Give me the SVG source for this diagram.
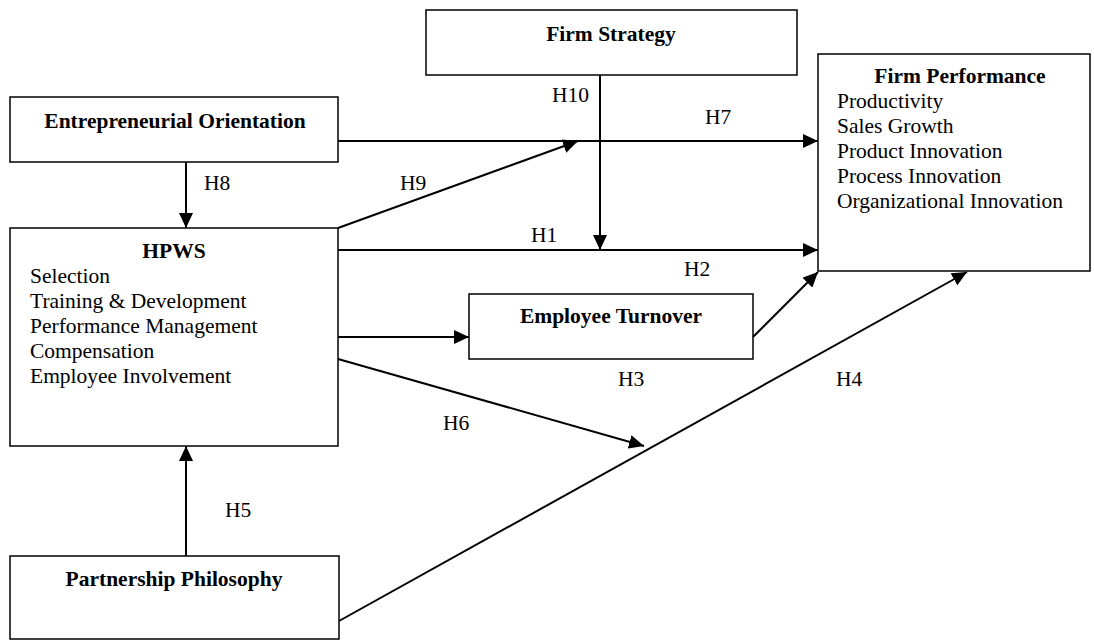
<svg xmlns="http://www.w3.org/2000/svg" width="1094" height="640" viewBox="0 0 1094 640">
<style>
.box{fill:#fff;stroke:#000;stroke-width:1.5}
.t{font-family:"Liberation Serif","Times New Roman",serif;font-size:21.5px;fill:#000}
.b{font-weight:bold}
.c{text-anchor:middle}
.con{stroke:#000;stroke-width:2;fill:none}
.lbl{font-family:"Liberation Serif","Times New Roman",serif;font-size:21.5px;fill:#000}
</style>
<defs>
<marker id="ah" markerUnits="userSpaceOnUse" markerWidth="15" markerHeight="14" refX="15" refY="7" orient="auto">
<path d="M0,0 L15,7 L0,14 z" fill="#000"/>
</marker>
</defs>
<rect width="1094" height="640" fill="#fff"/>
<g id="firm-strategy">
<rect class="box" x="426" y="10" width="371" height="65"/>
<text class="t b c" x="611" y="41">Firm Strategy</text>
</g>
<g id="entrepreneurial-orientation">
<rect class="box" x="10" y="97" width="328" height="65"/>
<text class="t b c" x="175" y="128">Entrepreneurial Orientation</text>
</g>
<g id="firm-performance">
<rect class="box" x="818" y="54" width="272" height="217"/>
<text class="t b c" x="960" y="83">Firm Performance</text>
<text class="t" x="837" y="108">Productivity</text>
<text class="t" x="837" y="133">Sales Growth</text>
<text class="t" x="837" y="158">Product Innovation</text>
<text class="t" x="837" y="183">Process Innovation</text>
<text class="t" x="837" y="208">Organizational Innovation</text>
</g>
<g id="hpws">
<rect class="box" x="10" y="228" width="328" height="218"/>
<text class="t b c" x="174" y="258">HPWS</text>
<text class="t" x="30" y="283">Selection</text>
<text class="t" x="30" y="308">Training &amp; Development</text>
<text class="t" x="30" y="333">Performance Management</text>
<text class="t" x="30" y="358">Compensation</text>
<text class="t" x="30" y="383">Employee Involvement</text>
</g>
<g id="employee-turnover">
<rect class="box" x="469" y="294" width="284" height="65"/>
<text class="t b c" x="611" y="323">Employee Turnover</text>
</g>
<g id="partnership-philosophy">
<rect class="box" x="10" y="556" width="329" height="83"/>
<text class="t b c" x="174" y="586">Partnership Philosophy</text>
</g>
<g id="connectors">
<line class="con" x1="338" y1="141" x2="818" y2="141" marker-end="url(#ah)"/>
<line class="con" x1="186" y1="162" x2="186" y2="228" marker-end="url(#ah)"/>
<line class="con" x1="338" y1="228" x2="578" y2="141" marker-end="url(#ah)"/>
<line class="con" x1="338" y1="250" x2="818" y2="250" marker-end="url(#ah)"/>
<line class="con" x1="600" y1="75" x2="600" y2="250" marker-end="url(#ah)"/>
<line class="con" x1="338" y1="337" x2="469" y2="337" marker-end="url(#ah)"/>
<line class="con" x1="753" y1="337" x2="818" y2="272" marker-end="url(#ah)"/>
<line class="con" x1="338" y1="359" x2="644" y2="446" marker-end="url(#ah)"/>
<line class="con" x1="186" y1="556" x2="186" y2="446" marker-end="url(#ah)"/>
<line class="con" x1="339" y1="621" x2="967" y2="272" marker-end="url(#ah)"/>
<text class="lbl" x="552" y="102">H10</text>
<text class="lbl" x="705" y="124">H7</text>
<text class="lbl" x="204" y="190">H8</text>
<text class="lbl" x="400" y="190">H9</text>
<text class="lbl" x="531" y="242">H1</text>
<text class="lbl" x="684" y="276">H2</text>
<text class="lbl" x="618" y="386">H3</text>
<text class="lbl" x="836" y="386">H4</text>
<text class="lbl" x="443" y="430">H6</text>
<text class="lbl" x="225" y="517">H5</text>
</g>
</svg>
